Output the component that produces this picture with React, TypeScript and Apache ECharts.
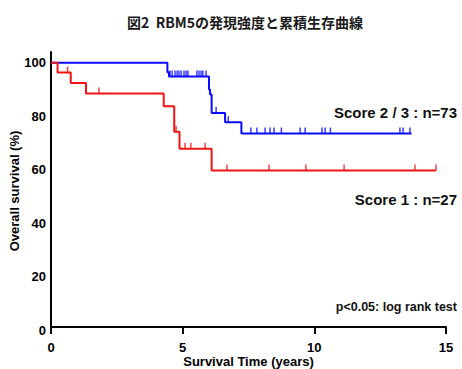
import React, { useEffect, useRef } from "react";
import * as echarts from "echarts";

// Kaplan–Meier step data
const blueTimes = [0, 4.42, 4.48, 6.0, 6.04, 6.1, 6.61, 7.23, 13.69];
const blueSurv = [100, 96.4, 94.8, 90.0, 88.1, 81.2, 77.7, 73.5, 73.5];
const blueCensor = [
  4.52, 4.6, 4.71, 4.79, 4.86, 4.94, 5.05, 5.13, 5.2, 5.54, 5.62, 5.7, 5.77, 5.89,
  6.27, 6.73, 7.59, 7.82, 8.13, 8.32, 8.47, 8.75, 9.46, 9.65, 10.29, 10.41, 10.61,
  13.25, 13.37, 13.63,
];

const redTimes = [0, 0.25, 0.75, 1.33, 4.28, 4.68, 4.88, 6.1, 14.62];
const redSurv = [100, 96.3, 92.4, 88.5, 83.7, 74.2, 67.8, 59.7, 59.7];
const redCensor = [0.63, 1.82, 4.75, 5.09, 5.31, 5.85, 6.68, 8.28, 9.68, 11.13, 13.82, 14.62];

const xTicks = [0, 5, 10, 15];
const yTicks = [0, 20, 40, 60, 80, 100];

const titleText = "図2  RBM5の発現強度と累積生存曲線";
const blueLabel = "Score 2 / 3 : n=73";
const redLabel = "Score 1 : n=27";
const pLabel = "p<0.05: log rank test";

const BLUE = "#0a0aff";
const RED = "#ee1414";
const FONT = "'Liberation Sans', Arial, sans-serif";

function levelAt(times: number[], surv: number[], t: number) {
  let v = surv[0];
  for (let i = 0; i < times.length; i++) {
    if (times[i] <= t) v = surv[i];
  }
  return v;
}

export default function App() {
  const ref = useRef<HTMLDivElement>(null);
  useEffect(() => {
    if (!ref.current) return;
    const chart = echarts.init(ref.current, null, { renderer: "svg" });
    const blueLine = blueTimes.map((t, i) => [t, blueSurv[i]]);
    const redLine = redTimes.map((t, i) => [t, redSurv[i]]);
    const blueMarks = blueCensor.map((t) => [t, levelAt(blueTimes, blueSurv, t)]);
    const redMarks = redCensor.map((t) => [t, levelAt(redTimes, redSurv, t)]);
    chart.setOption({
      animation: false,
      grid: {
        left: 51,
        right: 16,
        top: 52,
        bottom: 39,
        containLabel: false,
        outerBoundsMode: "none",
      },
      xAxis: {
        type: "value",
        min: xTicks[0],
        max: xTicks[xTicks.length - 1],
        interval: 5,
        offset: -3,
        axisLine: { show: true, onZero: false, lineStyle: { color: "#000", width: 2 } },
        axisTick: { show: true, length: 7, lineStyle: { color: "#000", width: 2 } },
        axisLabel: { color: "#000", fontSize: 13, fontWeight: "bold", fontFamily: FONT, margin: 14 },
        splitLine: { show: false },
        name: "Survival Time (years)",
        nameLocation: "middle",
        nameGap: 28,
        nameMoveOverlap: false,
        nameTextStyle: { color: "#000", fontSize: 13, fontWeight: "bold", fontFamily: FONT },
      },
      yAxis: {
        type: "value",
        min: 0,
        max: 104,
        interval: 20,
        axisLine: { show: true, lineStyle: { color: "#000", width: 2 } },
        axisTick: { show: false },
        axisLabel: {
          color: "#000",
          fontSize: 13,
          fontWeight: "bold",
          fontFamily: FONT,
          margin: 5,
          formatter: (v: number) => (yTicks.indexOf(v) >= 0 ? String(v) : ""),
        },
        splitLine: { show: false },
        name: "Overall survival (%)",
        nameLocation: "middle",
        nameGap: 30,
        nameMoveOverlap: false,
        nameTextStyle: { color: "#000", fontSize: 13, fontWeight: "bold", fontFamily: FONT },
      },
      series: [
        {
          type: "line",
          data: blueLine,
          step: "end",
          showSymbol: false,
          lineStyle: { color: BLUE, width: 2 },
          silent: true,
          z: 3,
        },
        {
          type: "line",
          data: redLine,
          step: "end",
          showSymbol: false,
          lineStyle: { color: RED, width: 2 },
          silent: true,
          z: 3,
        },
        {
          type: "scatter",
          data: blueMarks,
          symbol: "rect",
          symbolSize: [1.5, 6],
          symbolOffset: [0, -3],
          itemStyle: { color: BLUE },
          silent: true,
          z: 4,
        },
        {
          type: "scatter",
          data: redMarks,
          symbol: "rect",
          symbolSize: [1.5, 6],
          symbolOffset: [0, -3],
          itemStyle: { color: RED },
          silent: true,
          z: 4,
        },
      ],
      graphic: [
        {
          type: "text",
          x: 245,
          y: 22,
          style: {
            text: titleText,
            fill: "#1a1a1a",
            fontSize: 14,
            fontWeight: "bold",
            fontFamily: "'Noto Sans CJK JP', sans-serif",
            textAlign: "center",
            textVerticalAlign: "middle",
          },
        },
        {
          type: "text",
          x: 457,
          y: 112,
          style: {
            text: blueLabel,
            fill: "#111",
            fontSize: 15,
            fontWeight: "bold",
            fontFamily: FONT,
            textAlign: "right",
            textVerticalAlign: "middle",
          },
        },
        {
          type: "text",
          x: 457,
          y: 199,
          style: {
            text: redLabel,
            fill: "#111",
            fontSize: 15,
            fontWeight: "bold",
            fontFamily: FONT,
            textAlign: "right",
            textVerticalAlign: "middle",
          },
        },
        {
          type: "text",
          x: 457,
          y: 307,
          style: {
            text: pLabel,
            fill: "#111",
            fontSize: 12.5,
            fontWeight: "bold",
            fontFamily: FONT,
            textAlign: "right",
            textVerticalAlign: "middle",
          },
        },
      ],
    });
    return () => chart.dispose();
  }, []);
  return (
    <div
      ref={ref}
      style={{ position: "fixed", left: 0, top: 0, width: 462, height: 369, background: "#fff" }}
    />
  );
}
